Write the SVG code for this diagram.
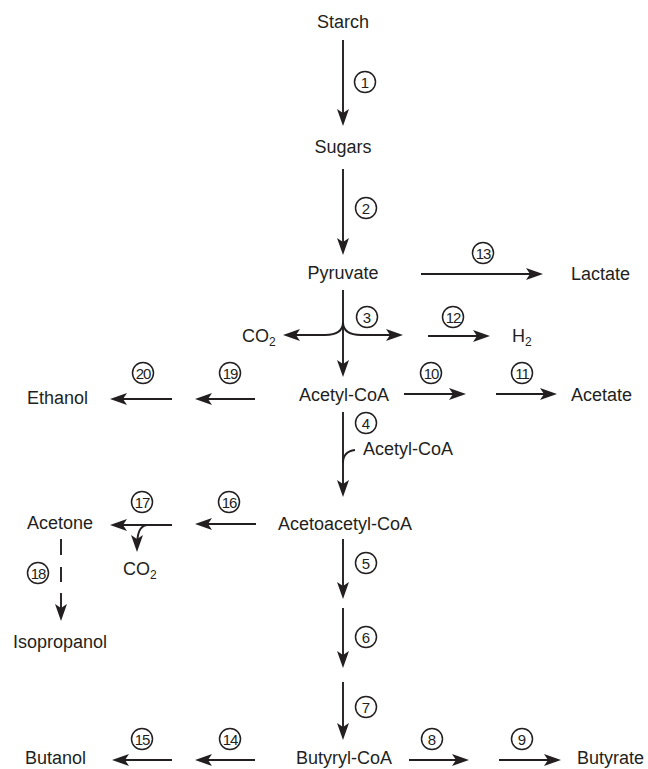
<svg xmlns="http://www.w3.org/2000/svg" width="648" height="769" viewBox="0 0 648 769">
<style>
.t{font-family:"Liberation Sans",Arial,sans-serif;font-size:18px;fill:#231f20}
.m{text-anchor:middle}
.n{font-family:"Liberation Sans",Arial,sans-serif;font-size:15px;fill:#231f20;text-anchor:middle}
.c{fill:#fff;stroke:#231f20;stroke-width:1.5}
.a{fill:none;stroke:#231f20;stroke-width:1.9;marker-end:url(#ah)}
.l{fill:none;stroke:#231f20;stroke-width:1.9}
</style>
<defs>
<marker id="ah" viewBox="0 0 17 12" refX="13" refY="6" markerWidth="17" markerHeight="12" markerUnits="userSpaceOnUse" orient="auto">
<path d="M0,0 L17,6 L0,12 L4,6 Z" fill="#231f20"/>
</marker>
</defs>
<rect width="648" height="769" fill="#fff"/>
<g id="connectors">
<path class="a" d="M343,40 V122"/>
<path class="a" d="M343,169 V251"/>
<path class="a" d="M421,274 H539"/>
<path class="a" d="M343,290 V373"/>
<path class="a" d="M343,322 C343,331 337,335 325,335 L287,335"/>
<path class="a" d="M343,322 C343,331 349,335 361,335 L399,335"/>
<path class="a" d="M428,336 H486"/>
<path class="a" d="M404,394 H462"/>
<path class="a" d="M496,394 H553"/>
<path class="a" d="M255,399 H199"/>
<path class="a" d="M172,399 H114"/>
<path class="a" d="M343,412 V493"/>
<path class="l" d="M355,450 C347,451 343,455 343,463"/>
<path class="a" d="M256,524 H199"/>
<path class="a" d="M172,525 H114"/>
<path class="a" d="M147,525 C140,526 137,532 137,548"/>
<path class="a" d="M61,539 V617" stroke-dasharray="16 12 15 11 40"/>
<path class="a" d="M343,539 V595"/>
<path class="a" d="M343,608 V664"/>
<path class="a" d="M343,682 V736"/>
<path class="a" d="M172,760 H116"/>
<path class="a" d="M255,760 H199"/>
<path class="a" d="M409,760 H465"/>
<path class="a" d="M499,760 H557"/>
</g>
<g id="nodes">
<g id="starch"><text class="t m" x="343" y="28">Starch</text></g>
<g id="sugars"><text class="t m" x="343" y="153">Sugars</text></g>
<g id="pyruvate"><text class="t m" x="343" y="279">Pyruvate</text></g>
<g id="lactate"><text class="t" x="571" y="280">Lactate</text></g>
<g id="co2a"><text class="t" x="242" y="342">CO<tspan font-size="12" dy="4">2</tspan></text></g>
<g id="h2"><text class="t" x="512" y="342">H<tspan font-size="12" dy="4">2</tspan></text></g>
<g id="ethanol"><text class="t" x="27" y="404">Ethanol</text></g>
<g id="acetylcoa"><text class="t m" x="344" y="401">Acetyl-CoA</text></g>
<g id="acetate"><text class="t" x="571" y="401">Acetate</text></g>
<g id="acetylcoa2"><text class="t" x="363" y="455">Acetyl-CoA</text></g>
<g id="acetone"><text class="t" x="27" y="529">Acetone</text></g>
<g id="acetoacetylcoa"><text class="t" x="278" y="530">Acetoacetyl-CoA</text></g>
<g id="co2b"><text class="t" x="123" y="575">CO<tspan font-size="12" dy="4">2</tspan></text></g>
<g id="isopropanol"><text class="t" x="13" y="648">Isopropanol</text></g>
<g id="butanol"><text class="t" x="25" y="764">Butanol</text></g>
<g id="butyrylcoa"><text class="t m" x="344" y="764">Butyryl-CoA</text></g>
<g id="butyrate"><text class="t" x="577" y="764">Butyrate</text></g>
</g>
<g id="steps">
<g id="s1"><circle class="c" cx="365" cy="82" r="10.5"/><text class="n" x="365" y="87.5">1</text></g>
<g id="s2"><circle class="c" cx="366" cy="208" r="10.5"/><text class="n" x="366" y="213.5">2</text></g>
<g id="s3"><circle class="c" cx="367" cy="317" r="10.5"/><text class="n" x="367" y="322.5">3</text></g>
<g id="s4"><circle class="c" cx="366" cy="423" r="10.5"/><text class="n" x="366" y="428.5">4</text></g>
<g id="s5"><circle class="c" cx="366" cy="563" r="10.5"/><text class="n" x="366" y="568.5">5</text></g>
<g id="s6"><circle class="c" cx="366" cy="637" r="10.5"/><text class="n" x="366" y="642.5">6</text></g>
<g id="s7"><circle class="c" cx="366" cy="707" r="10.5"/><text class="n" x="366" y="712.5">7</text></g>
<g id="s8"><circle class="c" cx="432" cy="739" r="10.5"/><text class="n" x="432" y="744.5">8</text></g>
<g id="s9"><circle class="c" cx="522" cy="739" r="10.5"/><text class="n" x="522" y="744.5">9</text></g>
<g id="s10"><circle class="c" cx="431" cy="373" r="10.5"/><text class="n" x="431" y="378.5" letter-spacing="-1">10</text></g>
<g id="s11"><circle class="c" cx="522" cy="373" r="10.5"/><text class="n" x="522" y="378.5" letter-spacing="-1">11</text></g>
<g id="s12"><circle class="c" cx="453" cy="317" r="10.5"/><text class="n" x="453" y="322.5" letter-spacing="-1">12</text></g>
<g id="s13"><circle class="c" cx="483" cy="253" r="10.5"/><text class="n" x="483" y="258.5" letter-spacing="-1">13</text></g>
<g id="s14"><circle class="c" cx="230" cy="739" r="10.5"/><text class="n" x="230" y="744.5" letter-spacing="-1">14</text></g>
<g id="s15"><circle class="c" cx="142" cy="739" r="10.5"/><text class="n" x="142" y="744.5" letter-spacing="-1">15</text></g>
<g id="s16"><circle class="c" cx="229" cy="502" r="10.5"/><text class="n" x="229" y="507.5" letter-spacing="-1">16</text></g>
<g id="s17"><circle class="c" cx="142" cy="502" r="10.5"/><text class="n" x="142" y="507.5" letter-spacing="-1">17</text></g>
<g id="s18"><circle class="c" cx="38" cy="573" r="10.5"/><text class="n" x="38" y="578.5" letter-spacing="-1">18</text></g>
<g id="s19"><circle class="c" cx="230" cy="373" r="10.5"/><text class="n" x="230" y="378.5" letter-spacing="-1">19</text></g>
<g id="s20"><circle class="c" cx="143" cy="373" r="10.5"/><text class="n" x="143" y="378.5" letter-spacing="-1">20</text></g>
</g>
</svg>
